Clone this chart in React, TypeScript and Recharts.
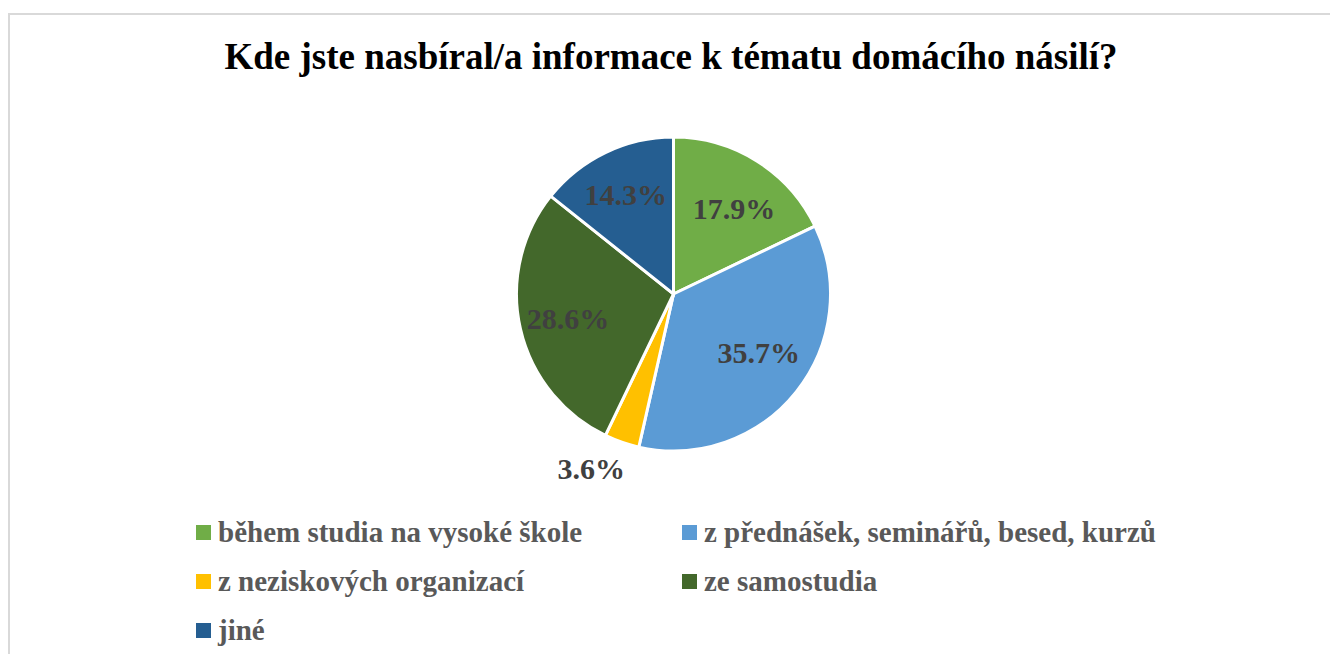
import { PieChart, Pie, Cell, Legend } from "recharts";

const categories = [
  "během studia na vysoké škole",
  "z přednášek, seminářů, besed, kurzů",
  "z neziskových organizací",
  "ze samostudia",
  "jiné",
];
const shares = [17.9, 35.7, 3.6, 28.6, 14.3];
const colors = ["#70AD47", "#5B9BD5", "#FFC000", "#43682B", "#255E91"];

// best-fit label placement: radius factor and angle nudge per slice
const labelRadius = [0.67, 0.66, 1.23, 0.69, 0.7];
const labelNudge = [-3, 4, -6, 0, 0];

const data = categories.map((name, i) => ({ name, value: shares[i] }));

const FONT = '"Liberation Serif", "Times New Roman", serif';
const RAD = Math.PI / 180;

const renderLabel = (props: any) => {
  const { cx, cy, midAngle, outerRadius, index, value } = props;
  const r = outerRadius * labelRadius[index];
  const a = (midAngle + labelNudge[index]) * RAD;
  const x = cx + r * Math.cos(a);
  const y = cy - r * Math.sin(a);
  return (
    <text
      x={x}
      y={y}
      textAnchor="middle"
      dominantBaseline="central"
      fill="#404040"
      fontSize={30}
      fontWeight="bold"
      fontFamily={FONT}
    >
      {value.toFixed(1)}%
    </text>
  );
};

const LegendContent = () => (
  <div
    style={{
      display: "grid",
      gridTemplateColumns: "486px 486px",
      rowGap: 15,
      fontFamily: FONT,
      fontWeight: "bold",
      fontSize: 29,
      color: "#595959",
      lineHeight: "34px",
    }}
  >
    {data.map((d, i) => (
      <div key={d.name} style={{ display: "flex", alignItems: "center", whiteSpace: "nowrap" }}>
        <span
          style={{
            width: 15,
            height: 15,
            background: colors[i],
            marginRight: 7,
            display: "inline-block",
            flex: "none",
          }}
        />
        {d.name}
      </div>
    ))}
  </div>
);

export default function App() {
  return (
    <div style={{ position: "fixed", left: 0, top: 0, width: 1330, height: 654, background: "#fff", overflow: "hidden" }}>
      <div
        style={{
          position: "absolute",
          left: 8,
          top: 13,
          width: 1330,
          height: 660,
          borderTop: "2px solid #D9D9D9",
          borderLeft: "2px solid #D9D9D9",
        }}
      />
      <div
        style={{
          position: "absolute",
          left: 0,
          top: 32,
          width: 1342,
          textAlign: "center",
          fontFamily: FONT,
          fontWeight: "bold",
          fontSize: 37,
          color: "#000",
          lineHeight: "50px",
        }}
      >
        Kde jste nasbíral/a informace k tématu domácího násilí?
      </div>
      <div style={{ position: "absolute", left: 0, top: 0 }}>
        <PieChart width={1330} height={654} margin={{ top: 0, right: 0, bottom: 0, left: 0 }}>
          <Pie
            data={data}
            dataKey="value"
            nameKey="name"
            cx={673.5}
            cy={294}
            outerRadius={157}
            startAngle={90}
            endAngle={-270}
            stroke="#fff"
            strokeWidth={3}
            label={renderLabel}
            labelLine={false}
            isAnimationActive={false}
          >
            {data.map((d, i) => (
              <Cell key={d.name} fill={colors[i]} />
            ))}
          </Pie>
          <Legend
            content={<LegendContent />}
            wrapperStyle={{ position: "absolute", left: 196, top: 515, width: 1000 }}
          />
        </PieChart>
      </div>
    </div>
  );
}
